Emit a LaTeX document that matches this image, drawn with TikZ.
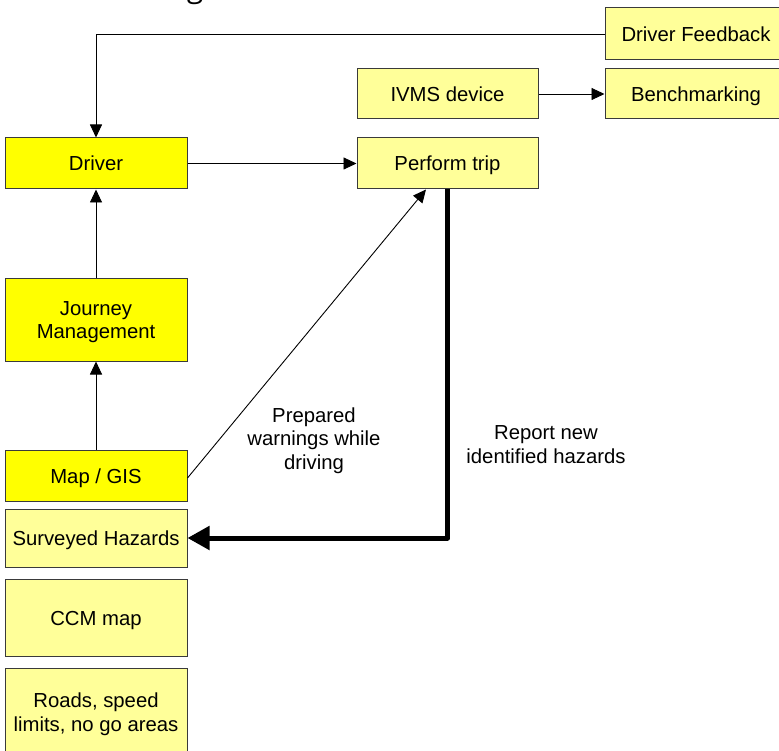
\documentclass[tikz,border=0pt]{standalone}
\usepackage{fontspec}
\setmainfont{Liberation Sans}
\newfontfamily\titlefont{Open Sans}
\usetikzlibrary{arrows.meta}
\definecolor{boxyellow}{HTML}{FFFF00}
\definecolor{paleyellow}{HTML}{FFFF99}
\definecolor{boxline}{HTML}{3A3A3A}
\begin{document}
\begin{tikzpicture}[x=1pt,y=-1pt,
  every node/.style={font=\fontsize{20.3}{23.5}\selectfont, text=black},
  box/.style={draw=boxline, line width=1pt, align=center, inner sep=0pt,
    minimum width=182pt, text depth=0pt},
  oneline/.style={text height=15pt},
  strong/.style={box, fill=boxyellow},
  pale/.style={box, fill=paleyellow},
  flow/.style={draw=black, line width=0.9pt, -{Triangle[length=13pt,width=12pt]}},
  report/.style={draw=black, line width=5pt, line join=round,
    -{Triangle[length=22pt,width=23pt]}},
  note/.style={align=center, inner sep=0pt}]
\useasboundingbox (0,0) rectangle (779,751);

% heading above the sheet (only its lower part falls on the page)
\node[anchor=base, font=\titlefont\fontsize{30}{30}\selectfont] (heading) at (195,-2) {g};

% top row
\node[pale, oneline, minimum height=52pt] (fb) at (696,34) {Driver Feedback};
\node[pale, oneline, minimum height=50pt] (bench) at (696,94) {Benchmarking};
\node[pale, oneline, minimum height=50pt, minimum width=181pt] (ivms) at (447.5,94) {IVMS device};
\node[pale, oneline, minimum height=51pt, minimum width=181pt] (trip) at (447.5,163.5) {Perform trip};

% left column
\node[strong, oneline, minimum height=51pt] (driver) at (96,163.5) {Driver};
\node[strong, minimum height=82pt] (jm) at (96,320) {Journey\\Management};
\node[strong, oneline, minimum height=51pt] (map) at (96,475.5) {Map / GIS};
\node[pale, oneline, minimum height=58pt] (sh) at (96,538) {Surveyed Hazards};
\node[pale, oneline, minimum height=77pt] (ccm) at (96,617.5) {CCM map};
\node[pale, minimum height=88pt] (roads) at (96,712) {Roads, speed\\limits, no go areas};

% labels
\node[note] (warn) at (314,440.5) {Prepared\\warnings while\\driving};
\node[note] (rep) at (546,444.5) {Report new\\identified hazards};

% connectors
\draw[flow] (fb.west) -| (driver.north);
\draw[flow] (ivms.east) -- (bench.west);
\draw[flow] (driver.east) -- (trip.west);
\draw[flow] (jm.north) -- (driver.south);
\draw[flow] (map.north) -- (jm.south);
\draw[flow] ([yshift=-2.5pt]map.east) -- ([xshift=-21.5pt]trip.south);
\draw[report] (trip.south) |- (sh.east);
\end{tikzpicture}
\end{document}
